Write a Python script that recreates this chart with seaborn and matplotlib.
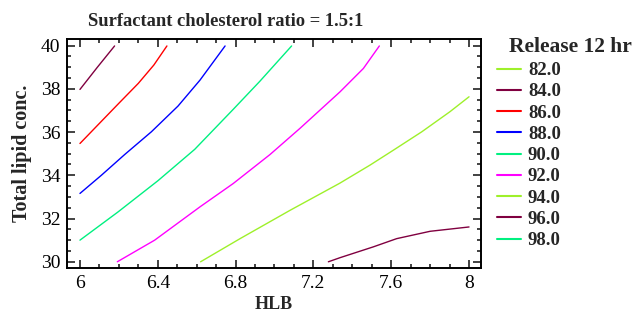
import numpy as np
import pandas as pd
import matplotlib
matplotlib.use('Agg')
import matplotlib.pyplot as plt
from matplotlib.lines import Line2D
from matplotlib.ticker import MultipleLocator
import seaborn as sns

# contour levels of "Release 12 hr" and their colours (legend order)
levels = [82.0, 84.0, 86.0, 88.0, 90.0, 92.0, 94.0, 96.0, 98.0]
level_colors = ['#9ef02a', '#800040', '#ff0000', '#0000ff', '#00f080',
                '#ff00ff', '#9ef02a', '#800040', '#00f080']

# contour lines (HLB, total lipid conc.)
hlb_84 = [6.00, 6.089, 6.178]
lipid_84 = [37.97, 38.99, 39.98]

hlb_86 = [6.00, 6.10, 6.20, 6.30, 6.38, 6.447]
lipid_86 = [35.47, 36.40, 37.33, 38.25, 39.10, 39.98]

hlb_88 = [6.00, 6.11, 6.23, 6.367, 6.504, 6.617, 6.746]
lipid_88 = [33.16, 34.00, 34.96, 36.01, 37.20, 38.40, 39.98]

hlb_90 = [6.00, 6.195, 6.401, 6.59, 6.788, 6.925, 7.088]
lipid_90 = [31.00, 32.30, 33.75, 35.20, 37.05, 38.35, 39.98]

hlb_92 = [6.192, 6.384, 6.617, 6.788, 6.977, 7.131, 7.337, 7.457, 7.539]
lipid_92 = [30.00, 31.00, 32.54, 33.62, 34.96, 36.17, 37.86, 38.94, 39.98]

hlb_94 = [6.62, 6.823, 7.08, 7.335, 7.491, 7.611, 7.757, 7.902, 8.00]
lipid_94 = [30.00, 31.07, 32.38, 33.63, 34.47, 35.16, 36.01, 36.94, 37.63]

hlb_96 = [7.277, 7.337, 7.508, 7.628, 7.80, 8.00]
lipid_96 = [30.00, 30.19, 30.69, 31.07, 31.41, 31.61]

contours = {
    84.0: (hlb_84, lipid_84),
    86.0: (hlb_86, lipid_86),
    88.0: (hlb_88, lipid_88),
    90.0: (hlb_90, lipid_90),
    92.0: (hlb_92, lipid_92),
    94.0: (hlb_94, lipid_94),
    96.0: (hlb_96, lipid_96),
}

sns.set_style('ticks')
plt.rcParams['font.family'] = ['Liberation Serif', 'DejaVu Serif']

fig = plt.figure(figsize=(6.35, 3.2), dpi=100)
ax = fig.add_axes([0.106, 0.163, 0.651, 0.715])

color_of = dict(zip(levels, level_colors))
for lvl, (xs, ys) in contours.items():
    df = pd.DataFrame({'HLB': xs, 'lipid': ys})
    sns.lineplot(data=df, x='HLB', y='lipid', sort=False, estimator=None,
                 color=color_of[lvl], linewidth=1.0, ax=ax)

ax.set_xlim(5.935, 8.06)
ax.set_ylim(29.72, 40.3)
ax.xaxis.set_minor_locator(MultipleLocator(0.1))
ax.yaxis.set_major_locator(MultipleLocator(2))
ax.yaxis.set_minor_locator(MultipleLocator(0.5))
ax.set_xticks([6, 6.4, 6.8, 7.2, 7.6, 8])
ax.set_xticklabels(['6', '6.4', '6.8', '7.2', '7.6', '8'])
ax.tick_params(which='both', direction='in', top=True, right=True,
               width=1.2, colors='#222222', labelcolor='black', labelsize=14)
ax.tick_params(which='major', length=6, pad=5)
ax.tick_params(which='minor', length=3)
for sp in ax.spines.values():
    sp.set_linewidth(1.4)
    sp.set_color('black')

ax.set_xlabel('HLB', fontsize=13, fontweight='bold', labelpad=3)
ax.set_ylabel('Total lipid conc.', fontsize=14.5, fontweight='bold', labelpad=6)
fig.text(0.355, 0.934, 'Surfactant cholesterol ratio = 1.5:1',
         ha='center', va='center', fontsize=13.3, fontweight='bold')

# legend: title placed on its own, entries below it
fig.text(509 / 635, 1 - 47 / 320, 'Release 12 hr', ha='left', va='center',
         fontsize=15.5, fontweight='bold')
handles = [Line2D([0], [0], color=c, linewidth=1.5) for c in level_colors]
labels = [f'{v:.1f}' for v in levels]
fig.legend(handles, labels, loc='upper left',
           bbox_to_anchor=(497 / 635, 1 - 62 / 320), frameon=False,
           borderpad=0, borderaxespad=0,
           handlelength=1.28, handletextpad=0.37, labelspacing=0.22,
           prop={'size': 13.5, 'weight': 'bold'})

fig.savefig('out.png', dpi=100)
